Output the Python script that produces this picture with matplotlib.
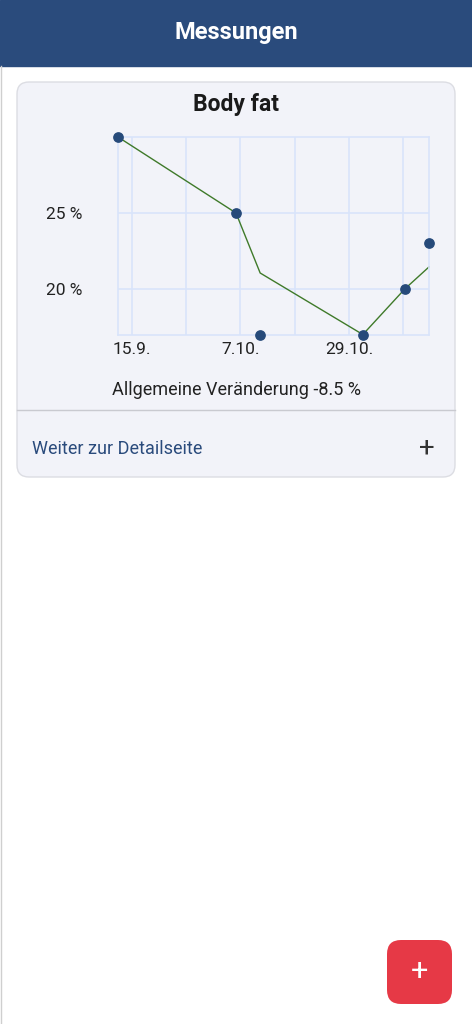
import matplotlib.pyplot as plt
from matplotlib.patches import FancyBboxPatch, Rectangle

plt.rcParams['font.family'] = ['Roboto', 'DejaVu Sans']

# days since 15.9.
line_days = [-2.8, 21.1, 26.0, 46.8, 55.3, 60.2]
line_vals = [30.0, 25.0, 21.05, 17.0, 20.0, 21.45]
dot_days = [-2.8, 21.1, 26.0, 46.8, 55.3, 60.2]
dot_vals = [30.0, 25.0, 17.0, 17.0, 20.0, 23.0]
x_ticks = [0, 22, 44]
x_labels = ['15.9.', '7.10.', '29.10.']
x_grid = [0, 11, 22, 33, 44, 55]
y_ticks = [20, 25]
y_labels = ['20 %', '25 %']

W, H = 472, 1024
fig = plt.figure(figsize=(W / 100, H / 100), dpi=100)
fig.patch.set_facecolor('white')
bg = fig.add_axes([0, 0, 1, 1])
bg.set_xlim(0, W)
bg.set_ylim(H, 0)
bg.axis('off')

# header
bg.add_patch(Rectangle((0, 0), W, 66, color='#2a4b7c'))
bg.text(236, 33, 'Messungen', color='white', fontsize=17, fontweight='bold',
        ha='center', va='center', fontstretch='condensed')
bg.plot([0.5, 0.5], [66, H], color='#cfcfcf', lw=1)

# card
bg.add_patch(FancyBboxPatch((17, 82), 438, 395, boxstyle='round,pad=0,rounding_size=12',
                            fc='#f2f3f9', ec='#dcdde3', lw=1))
bg.text(236, 104, 'Body fat', fontsize=16.5, fontweight='bold', ha='center', va='center',
        color='#1a1a1a')
bg.text(236, 390, 'Allgemeine Veränderung -8.5 %', fontsize=13, ha='center',
        va='center', color='#222222')
bg.plot([17, 455], [410, 410], color='#c9cad0', lw=1)
bg.text(32, 449, 'Weiter zur Detailseite', fontsize=13, ha='left', va='center',
        color='#2a4b7c')
bg.text(427, 448, '+', fontsize=20, ha='center', va='center', color='#333333')

# FAB
bg.add_patch(FancyBboxPatch((387, 940), 65, 64, boxstyle='round,pad=0,rounding_size=14',
                            fc='#e63946', ec='none'))
bg.text(419.5, 971, '+', fontsize=22, ha='center', va='center', color='white')

# chart
grid_c = '#d9e4fb'
ax = fig.add_axes([118 / W, 1 - 335 / H, 311 / W, 198 / H])
ax.set_facecolor('#f2f3f9')
ax.set_xlim(-2.8, 60.2)
ax.set_ylim(16.97, 30)
for d in x_grid:
    ax.axvline(d, color=grid_c, lw=1.2, zorder=0)
for v in y_ticks:
    ax.axhline(v, color=grid_c, lw=1.2, zorder=0)
for s in ax.spines.values():
    s.set_color(grid_c)
    s.set_linewidth(1.2)
ax.plot(line_days, line_vals, color='#3f7a2a', lw=1, zorder=2, clip_on=False)
ax.scatter(dot_days, dot_vals, s=45, color='#264a7a', zorder=3, clip_on=False)
ax.set_xticks(x_ticks, x_labels)
ax.set_yticks(y_ticks, y_labels)
ax.tick_params(length=0, labelsize=12.5, colors='#222222')
ax.tick_params(axis='y', pad=26)
ax.tick_params(axis='x', pad=5)
for lbl in ax.get_xticklabels():
    lbl.set_x(lbl.get_position()[0])
ax.set_xticks(x_ticks, x_labels)

fig.savefig('out.png', dpi=100)
